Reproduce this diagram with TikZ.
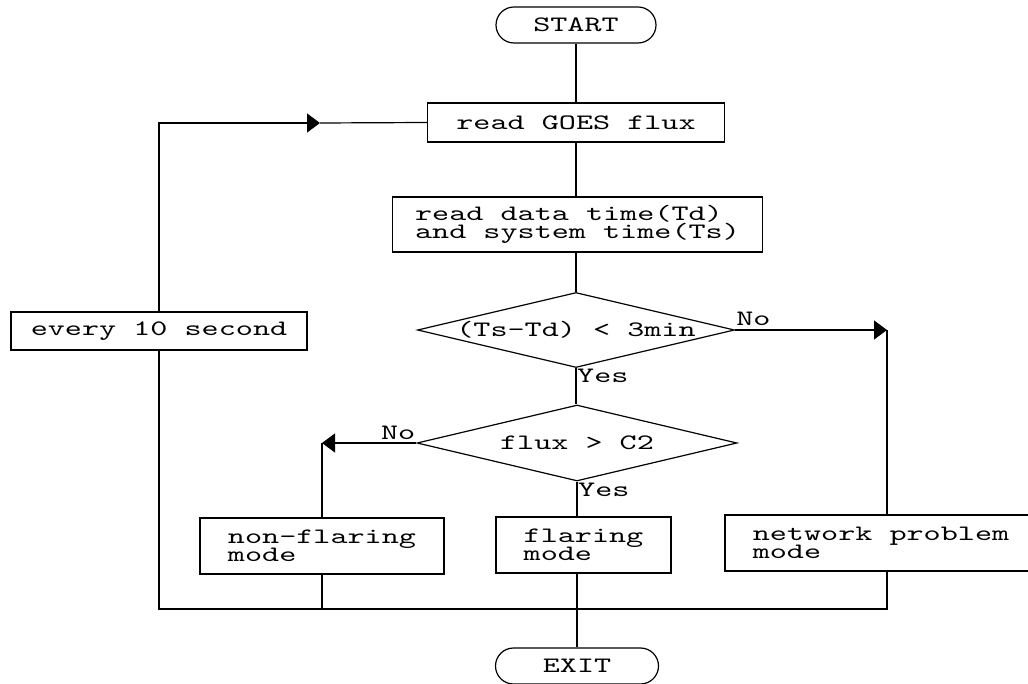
\documentclass[tikz,border=0pt]{standalone}
\usepackage{fontspec}
\newfontfamily\chartfont{lmmono10-regular.otf}[FakeStretch=1.48]
\newcommand\chartlettering{\chartfont\fontsize{22}{17.5}\selectfont\setlength{\lineskiplimit}{-50pt}}
\usetikzlibrary{shapes.geometric,shapes.misc,arrows.meta}

\begin{document}
\begin{tikzpicture}[x=1pt,y=-1pt,
  every node/.style={font=\chartlettering, text=black},
  flow/.style={line width=1.2pt, draw=black},
  flowarrow/.style={-{Triangle[length=13pt,width=19pt]}},
  proc/.style={draw, line width=1.2pt, inner sep=0pt, align=left},
  term/.style={draw, line width=1.2pt, rounded rectangle, inner sep=0pt,
               minimum width=160pt, minimum height=36pt},
  decide/.style={draw, line width=1.2pt, diamond, inner sep=0pt},
  tag/.style={inner sep=1pt}
]
\fill[white] (0,0) rectangle (1028,684);
\useasboundingbox (0,0) rectangle (1028,684);

% terminals
\node[term] (start) at (576,25) {START};
\node[term, minimum width=163pt] (exit) at (577,666) {EXIT};

% process boxes
\node[proc, minimum width=297pt, minimum height=39pt] (goes) at (576,122.5) {read GOES flux};
\node[proc, minimum width=370pt, minimum height=55pt] (data) at (577.5,224.5) {read data time(Td)\\and system time(Ts)};
\node[proc, minimum width=296pt, minimum height=38pt] (every) at (159,331) {every 10 second};
\node[proc, minimum width=244pt, minimum height=56pt] (nonflare) at (322,546) {non-flaring\\mode};
\node[proc, minimum width=175pt, minimum height=56pt] (flare) at (583.5,545) {flaring\\mode};
\node[proc, minimum width=312pt, minimum height=56pt] (net) at (881,543) {network problem\\mode};

% decisions
\node[decide, minimum width=317pt, minimum height=75pt] (d1) at (576,330) {};
\node (d1t) at (d1.center) {(Ts-Td) < 3min};
\node[decide, minimum width=320pt, minimum height=76pt] (d2) at (577,443) {};
\node (d2t) at (d2.center) {flux > C2};

% branch labels
\node[tag, anchor=north west] (y1) at (d1.south) {Yes};
\node[tag, anchor=north west] (y2) at (d2.south) {Yes};
\node[tag, anchor=base west, yshift=4pt] (n1) at (d1.east) {No};
\node[tag, anchor=base east, yshift=4pt] (n2) at (d2.west) {No};

% corner points of the connectors
\coordinate (noR) at (887,330);
\coordinate (noL) at (322,443);
\coordinate (loopTop) at (159,123);
\coordinate (loopArrow) at (320,123);
\coordinate (bl) at (159,609);
\coordinate (br) at (887,609);

% main line
\draw[flow] (start.south) -- (start.south |- goes.north);
\draw[flow] (goes.south) -- (goes.south |- data.north);
\draw[flow] (data.south -| d1.north) -- (d1.north);
\draw[flow] (d1.south) -- (d1.south |- d2.north);
\draw[flow] (d2.south) -- (d2.south |- flare.north);
\draw[flow] (d2.south |- flare.south) -- (d2.south |- exit.north);

% branches
\draw[flow, flowarrow] (d1.east) -- (noR);
\draw[flow] (noR) -- (noR |- net.north);
\draw[flow, flowarrow] (d2.west) -- (noL);
\draw[flow] (noL) -- (noL |- nonflare.north);

% return loop
\draw[flow] (nonflare.south) -- (nonflare.south |- bl);
\draw[flow] (noR |- net.south) -- (br) -- (bl) -- (every.south);
\draw[flow, flowarrow] (every.north) -- (loopTop) -- (loopArrow);
\draw[flow] (loopArrow) -- (goes.west);
\end{tikzpicture}
\end{document}
